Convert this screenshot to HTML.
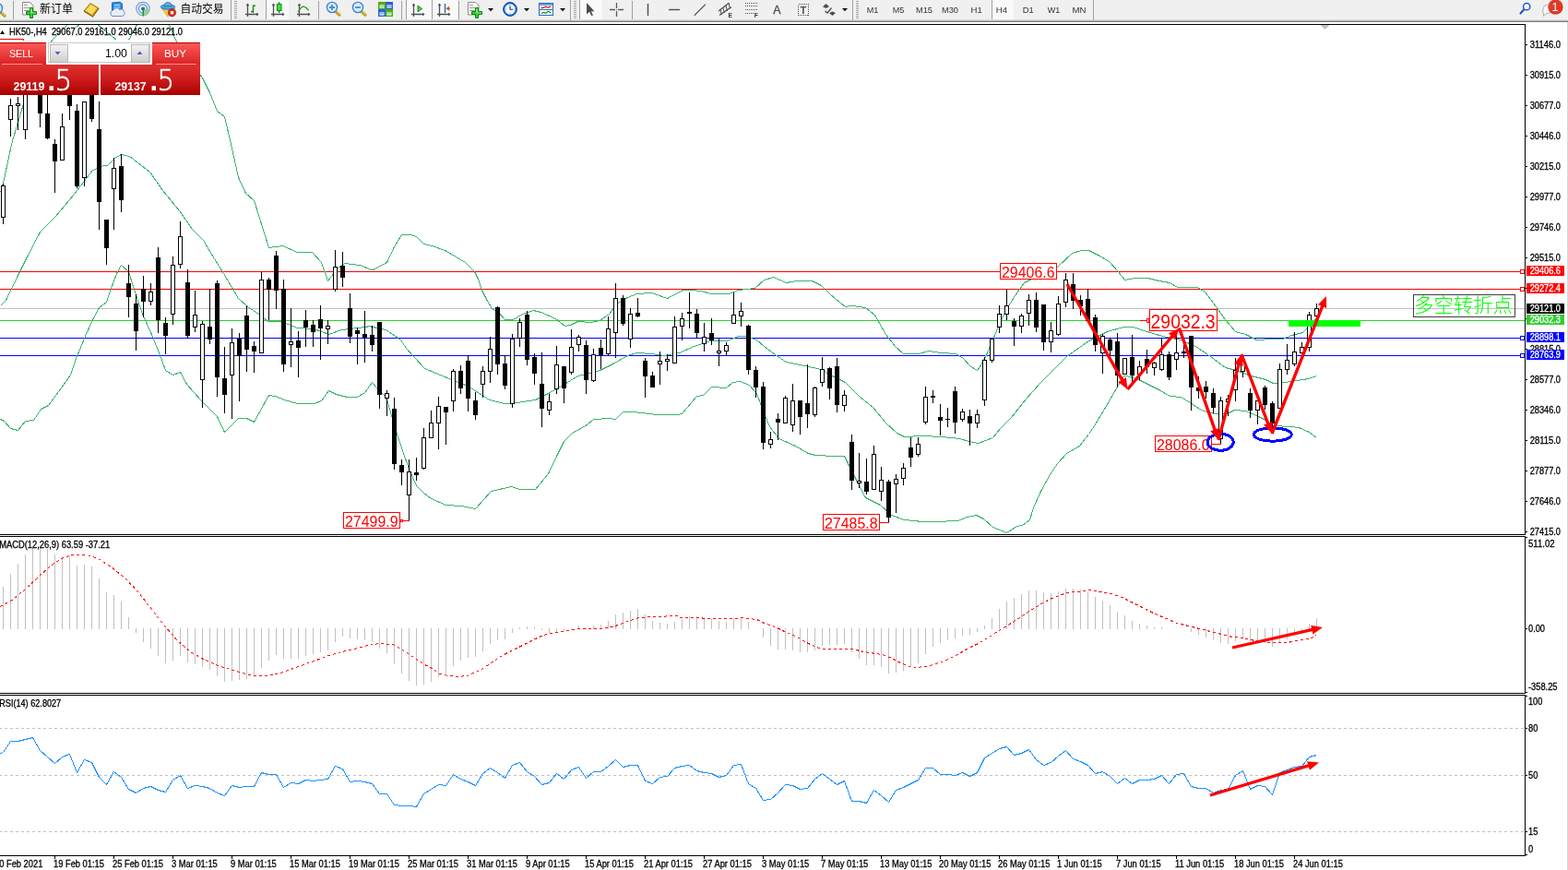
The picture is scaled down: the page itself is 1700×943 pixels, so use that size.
<!DOCTYPE html><html lang="zh"><head><meta charset="utf-8"><title>HK50-,H4</title>
<style>html,body{margin:0;padding:0;background:#fff}body{width:1700px;height:943px;overflow:hidden;position:relative;font-family:'Liberation Sans', 'Noto Sans CJK SC', sans-serif}svg{position:absolute;left:0;top:0;display:block}text{font-family:'Liberation Sans', 'Noto Sans CJK SC', sans-serif;white-space:pre}</style></head><body>
<svg width="1700" height="943" viewBox="0 0 1700 943">
<rect x="0" y="0" width="1700" height="943" fill="#fff"/>
<g shape-rendering="crispEdges">
<rect x="0" y="294" width="1653" height="1" fill="#ff0000"/>
<rect x="0" y="313" width="1653" height="1" fill="#ff0000"/>
<rect x="0" y="334" width="1653" height="1" fill="#c0c0c0"/>
<rect x="0" y="347" width="1653" height="1" fill="#32cd32"/>
<rect x="0" y="366" width="1653" height="1" fill="#0000ff"/>
<rect x="0" y="385" width="1653" height="1" fill="#0000ff"/>
<line x1="0" y1="789.5" x2="1653" y2="789.5" stroke="#c0c0c0" stroke-width="1" stroke-dasharray="3 3" stroke-dashoffset="1"/>
<line x1="0" y1="840.5" x2="1653" y2="840.5" stroke="#c0c0c0" stroke-width="1" stroke-dasharray="3 3" stroke-dashoffset="1"/>
<line x1="0" y1="901.5" x2="1653" y2="901.5" stroke="#c0c0c0" stroke-width="1" stroke-dasharray="3 3" stroke-dashoffset="1"/>
<path d="M3 636h1V682h-1zM11 622h1V682h-1zM19 611h1V682h-1zM27 601h1V682h-1zM35 594h1V682h-1zM43 593h1V682h-1zM51 595h1V682h-1zM59 601h1V682h-1zM67 603h1V682h-1zM75 603h1V682h-1zM83 613h1V682h-1zM91 612h1V682h-1zM99 614h1V682h-1zM107 627h1V682h-1zM115 642h1V682h-1zM123 645h1V682h-1zM131 652h1V682h-1zM139 669h1V682h-1zM147 681h1V686h-1zM155 681h1V696h-1zM163 681h1V703h-1zM171 681h1V711h-1zM179 681h1V719h-1zM187 681h1V716h-1zM195 681h1V711h-1zM203 681h1V718h-1zM211 681h1V720h-1zM219 681h1V723h-1zM227 681h1V726h-1zM235 681h1V733h-1zM243 681h1V739h-1zM251 681h1V738h-1zM259 681h1V737h-1zM267 681h1V736h-1zM275 681h1V733h-1zM283 681h1V724h-1zM291 681h1V716h-1zM299 681h1V710h-1zM307 681h1V714h-1zM315 681h1V714h-1zM323 681h1V714h-1zM331 681h1V711h-1zM339 681h1V709h-1zM347 681h1V707h-1zM355 681h1V705h-1zM363 681h1V696h-1zM371 681h1V690h-1zM379 681h1V692h-1zM387 681h1V693h-1zM395 681h1V694h-1zM403 681h1V696h-1zM411 681h1V703h-1zM419 681h1V708h-1zM427 681h1V720h-1zM435 681h1V730h-1zM443 681h1V738h-1zM451 681h1V743h-1zM459 681h1V742h-1zM467 681h1V739h-1zM475 681h1V734h-1zM483 681h1V730h-1zM491 681h1V722h-1zM499 681h1V716h-1zM507 681h1V713h-1zM515 681h1V712h-1zM523 681h1V706h-1zM531 681h1V698h-1zM539 681h1V694h-1zM547 681h1V693h-1zM555 681h1V686h-1zM563 680h1V682h-1zM571 679h1V682h-1zM579 680h1V682h-1zM587 681h1V683h-1zM595 681h1V686h-1zM603 681h1V685h-1zM611 681h1V684h-1zM619 681h1V683h-1zM627 678h1V682h-1zM635 680h1V682h-1zM643 678h1V682h-1zM651 677h1V682h-1zM659 673h1V682h-1zM667 666h1V682h-1zM675 664h1V682h-1zM683 662h1V682h-1zM691 660h1V682h-1zM699 666h1V682h-1zM707 673h1V682h-1zM715 675h1V682h-1zM723 676h1V682h-1zM731 674h1V682h-1zM739 671h1V682h-1zM747 668h1V682h-1zM755 668h1V682h-1zM763 669h1V682h-1zM771 670h1V682h-1zM779 673h1V682h-1zM787 674h1V682h-1zM795 670h1V682h-1zM803 669h1V682h-1zM811 674h1V682h-1zM827 681h1V691h-1zM835 681h1V700h-1zM843 681h1V704h-1zM851 681h1V704h-1zM859 681h1V705h-1zM867 681h1V707h-1zM875 681h1V707h-1zM883 681h1V705h-1zM891 681h1V700h-1zM899 681h1V699h-1zM907 681h1V699h-1zM915 681h1V698h-1zM923 681h1V707h-1zM931 681h1V714h-1zM939 681h1V721h-1zM947 681h1V721h-1zM955 681h1V723h-1zM963 681h1V730h-1zM971 681h1V729h-1zM979 681h1V727h-1zM987 681h1V723h-1zM995 681h1V719h-1zM1003 681h1V709h-1zM1011 681h1V701h-1zM1019 681h1V697h-1zM1027 681h1V694h-1zM1035 681h1V692h-1zM1043 681h1V689h-1zM1051 681h1V688h-1zM1059 681h1V685h-1zM1067 678h1V682h-1zM1075 670h1V682h-1zM1083 660h1V682h-1zM1091 652h1V682h-1zM1099 648h1V682h-1zM1107 644h1V682h-1zM1115 640h1V682h-1zM1123 640h1V682h-1zM1131 642h1V682h-1zM1139 643h1V682h-1zM1147 641h1V682h-1zM1155 638h1V682h-1zM1163 638h1V682h-1zM1171 639h1V682h-1zM1179 642h1V682h-1zM1187 647h1V682h-1zM1195 651h1V682h-1zM1203 656h1V682h-1zM1211 663h1V682h-1zM1219 667h1V682h-1zM1227 673h1V682h-1zM1235 676h1V682h-1zM1243 678h1V682h-1zM1251 680h1V682h-1zM1259 680h1V682h-1zM1291 681h1V685h-1zM1299 681h1V688h-1zM1307 681h1V691h-1zM1315 681h1V694h-1zM1323 681h1V697h-1zM1331 681h1V698h-1zM1339 681h1V695h-1zM1347 681h1V692h-1zM1355 681h1V695h-1zM1363 681h1V697h-1zM1371 681h1V697h-1zM1379 681h1V701h-1zM1387 681h1V697h-1zM1395 681h1V693h-1zM1403 681h1V688h-1zM1411 681h1V684h-1zM1419 676h1V682h-1zM1427 670h1V682h-1z" fill="#c0c0c0"/>
<polyline points="0.5,208.5 4.5,194.5 12.5,156.5 25.5,112.5 40.5,74.5 56.5,43.5 72.5,27.5" fill="none" stroke="#3cb371" stroke-width="1"/>
<polyline points="82.5,29.5 86.5,26.5" fill="none" stroke="#3cb371" stroke-width="1"/>
<polyline points="105.5,26.5 126.5,43.5" fill="none" stroke="#3cb371" stroke-width="1"/>
<polyline points="139.5,43.5 148.5,26.5" fill="none" stroke="#3cb371" stroke-width="1"/>
<polyline points="183.5,26.5 190.5,43.5 205.5,66.5 219.5,84.5 227.5,100.5 235.5,120.5 243.5,126.5 250.5,156.5 258.5,192.5 266.5,209.5 275.5,217.5 291.5,268.5 306.5,266.5 322.5,273.5 338.5,273.5 348.5,284.5 355.5,304.5 366.5,290.5 373.5,285.5 390.5,287.5 402.5,292.5 404.5,292.5 419.5,284.5 427.5,267.5 435.5,254.5 445.5,254.5 451.5,256.5 459.5,264.5 468.5,266.5 482.5,271.5 494.5,278.5 504.5,284.5 514.5,294.5 518.5,302.5 522.5,314.5 528.5,326.5 533.5,334.5 540.5,338.5 547.5,346.5 556.5,346.5 566.5,340.5 578.5,336.5 586.5,338.5 602.5,345.5 612.5,353.5 618.5,352.5 626.5,348.5 640.5,349.5 650.5,347.5 660.5,340.5 668.5,329.5 680.5,322.5 690.5,318.5 706.5,317.5 723.5,323.5 740.5,314.5 749.5,314.5 760.5,315.5 770.5,318.5 790.5,318.5 800.5,314.5 818.5,312.5 828.5,303.5 838.5,300.5 852.5,306.5 864.5,304.5 880.5,304.5 890.5,309.5 900.5,319.5 916.5,332.5 924.5,331.5 938.5,333.5 948.5,341.5 960.5,362.5 970.5,375.5 979.5,383.5 996.5,383.5 1006.5,380.5 1020.5,382.5 1036.5,383.5 1044.5,388.5 1051.5,396.5 1059.5,401.5 1064.5,394.5 1070.5,382.5 1080.5,358.5 1090.5,336.5 1100.5,320.5 1110.5,306.5 1126.5,298.5 1146.5,289.5 1162.5,274.5 1172.5,271.5 1180.5,271.5 1190.5,276.5 1202.5,283.5 1212.5,294.5 1219.5,303.5 1230.5,301.5 1244.5,301.5 1256.5,304.5 1268.5,306.5 1276.5,311.5 1298.5,311.5 1306.5,316.5 1318.5,332.5 1328.5,346.5 1339.5,359.5 1350.5,362.5 1362.5,368.5 1380.5,367.5 1390.5,367.5 1400.5,363.5 1412.5,360.5 1418.5,354.5 1427.5,344.5" fill="none" stroke="#3cb371" stroke-width="1"/>
<polyline points="0.5,331.5 6.5,325.5 20.5,296.5 28.5,280.5 43.5,251.5 60.5,234.5 80.5,210.5 100.5,184.5 112.5,179.5 116.5,179.5 124.5,171.5 131.5,167.5 140.5,169.5 162.5,186.5 176.5,206.5 194.5,228.5 208.5,248.5 220.5,260.5 232.5,280.5 242.5,296.5 258.5,323.5 268.5,332.5 280.5,340.5 290.5,348.5 304.5,348.5 312.5,351.5 322.5,355.5 340.5,356.5 356.5,362.5 370.5,357.5 396.5,354.5 400.5,353.5 408.5,355.5 418.5,357.5 434.5,368.5 440.5,377.5 448.5,386.5 460.5,399.5 489.5,411.5 500.5,415.5 510.5,420.5 530.5,433.5 547.5,437.5 560.5,436.5 580.5,433.5 594.5,426.5 610.5,417.5 626.5,407.5 640.5,404.5 650.5,401.5 664.5,394.5 680.5,385.5 690.5,382.5 706.5,383.5 720.5,385.5 736.5,382.5 752.5,375.5 764.5,371.5 770.5,369.5 788.5,369.5 800.5,364.5 808.5,364.5 820.5,368.5 828.5,375.5 840.5,384.5 852.5,392.5 872.5,396.5 890.5,400.5 900.5,406.5 916.5,414.5 932.5,430.5 946.5,441.5 960.5,458.5 972.5,469.5 980.5,473.5 1000.5,472.5 1020.5,473.5 1040.5,475.5 1050.5,478.5 1060.5,480.5 1076.5,474.5 1084.5,464.5 1096.5,452.5 1112.5,432.5 1128.5,414.5 1156.5,386.5 1180.5,369.5 1200.5,359.5 1218.5,354.5 1228.5,354.5 1240.5,358.5 1260.5,364.5 1280.5,368.5 1296.5,375.5 1312.5,386.5 1328.5,398.5 1340.5,401.5 1356.5,407.5 1372.5,411.5 1380.5,415.5 1392.5,414.5 1406.5,412.5 1418.5,410.5 1427.5,407.5" fill="none" stroke="#3cb371" stroke-width="1"/>
<polyline points="0.5,454.5 4.5,456.5 11.5,464.5 19.5,466.5 27.5,456.5 36.5,455.5 44.5,443.5 52.5,439.5 66.5,420.5 76.5,406.5 82.5,388.5 92.5,364.5 100.5,346.5 107.5,333.5 115.5,327.5 120.5,312.5 126.5,296.5 131.5,287.5 139.5,294.5 144.5,310.5 154.5,340.5 164.5,362.5 172.5,382.5 179.5,401.5 187.5,406.5 195.5,403.5 202.5,416.5 218.5,434.5 235.5,451.5 243.5,468.5 258.5,453.5 267.5,453.5 275.5,457.5 291.5,428.5 298.5,429.5 308.5,433.5 322.5,437.5 340.5,437.5 348.5,434.5 356.5,423.5 364.5,427.5 376.5,430.5 387.5,430.5 395.5,425.5 403.5,414.5 408.5,420.5 417.5,429.5 420.5,436.5 424.5,450.5 430.5,470.5 436.5,488.5 443.5,508.5 451.5,526.5 459.5,534.5 467.5,540.5 483.5,547.5 500.5,548.5 515.5,551.5 532.5,532.5 554.5,527.5 563.5,530.5 580.5,530.5 594.5,513.5 604.5,492.5 611.5,478.5 620.5,469.5 636.5,460.5 643.5,454.5 660.5,453.5 667.5,454.5 675.5,446.5 686.5,446.5 712.5,449.5 734.5,449.5 739.5,448.5 755.5,429.5 762.5,428.5 771.5,419.5 787.5,420.5 794.5,414.5 802.5,413.5 812.5,417.5 820.5,426.5 828.5,448.5 834.5,462.5 844.5,475.5 860.5,482.5 876.5,491.5 884.5,493.5 904.5,494.5 915.5,494.5 920.5,504.5 928.5,520.5 938.5,539.5 954.5,547.5 966.5,558.5 980.5,563.5 1000.5,565.5 1014.5,565.5 1038.5,564.5 1048.5,560.5 1058.5,558.5 1066.5,562.5 1076.5,571.5 1091.5,577.5 1102.5,570.5 1108.5,569.5 1116.5,563.5 1120.5,550.5 1128.5,532.5 1138.5,514.5 1146.5,502.5 1156.5,491.5 1170.5,483.5 1180.5,470.5 1188.5,458.5 1200.5,438.5 1212.5,417.5 1218.5,407.5 1226.5,408.5 1236.5,412.5 1256.5,422.5 1268.5,429.5 1280.5,430.5 1290.5,436.5 1300.5,443.5 1310.5,447.5 1320.5,448.5 1330.5,448.5 1338.5,444.5 1350.5,445.5 1362.5,450.5 1372.5,455.5 1380.5,461.5 1399.5,462.5 1408.5,463.5 1419.5,468.5 1427.5,474.5" fill="none" stroke="#3cb371" stroke-width="1"/>
<path d="M3 199h1V243h-1zM11 107h1V148h-1zM19 105h1V141h-1zM27 90h1V151h-1zM43 80h1V138h-1zM51 95h1V151h-1zM59 151h1V209h-1zM67 123h1V174h-1zM75 90h1V130h-1zM83 113h1V204h-1zM91 110h1V202h-1zM99 90h1V132h-1zM107 110h1V249h-1zM115 238h1V287h-1zM123 171h1V249h-1zM131 167h1V230h-1zM139 287h1V344h-1zM147 319h1V380h-1zM155 299h1V344h-1zM163 307h1V331h-1zM171 268h1V361h-1zM179 344h1V384h-1zM187 278h1V352h-1zM195 240h1V291h-1zM203 292h1V366h-1zM211 315h1V360h-1zM219 348h1V442h-1zM227 313h1V373h-1zM235 304h1V430h-1zM243 376h1V448h-1zM251 356h1V454h-1zM259 361h1V435h-1zM267 331h1V403h-1zM275 370h1V404h-1zM283 295h1V383h-1zM291 301h1V347h-1zM299 272h1V335h-1zM307 303h1V403h-1zM315 334h1V398h-1zM323 359h1V409h-1zM331 336h1V376h-1zM339 347h1V376h-1zM347 331h1V390h-1zM355 347h1V373h-1zM363 271h1V316h-1zM371 273h1V311h-1zM379 318h1V372h-1zM387 355h1V395h-1zM395 337h1V393h-1zM403 353h1V381h-1zM411 349h1V443h-1zM419 423h1V451h-1zM427 431h1V509h-1zM435 498h1V526h-1zM443 498h1V564h-1zM451 496h1V521h-1zM459 464h1V509h-1zM467 445h1V475h-1zM475 430h1V487h-1zM483 441h1V482h-1zM491 400h1V446h-1zM499 396h1V427h-1zM507 385h1V446h-1zM515 425h1V455h-1zM523 397h1V431h-1zM531 365h1V415h-1zM539 332h1V406h-1zM547 385h1V422h-1zM555 362h1V442h-1zM563 345h1V376h-1zM571 337h1V396h-1zM579 383h1V417h-1zM587 382h1V463h-1zM595 427h1V450h-1zM603 375h1V427h-1zM611 397h1V437h-1zM619 357h1V406h-1zM627 363h1V381h-1zM635 369h1V427h-1zM643 378h1V414h-1zM651 368h1V400h-1zM659 343h1V386h-1zM667 307h1V388h-1zM675 320h1V353h-1zM683 334h1V377h-1zM691 323h1V344h-1zM699 388h1V431h-1zM707 403h1V420h-1zM715 381h1V417h-1zM723 384h1V402h-1zM731 343h1V394h-1zM739 339h1V369h-1zM747 317h1V356h-1zM755 335h1V367h-1zM763 350h1V381h-1zM771 345h1V374h-1zM779 367h1V397h-1zM787 371h1V385h-1zM795 317h1V351h-1zM803 328h1V354h-1zM811 352h1V406h-1zM819 397h1V431h-1zM827 414h1V487h-1zM835 468h1V486h-1zM843 448h1V477h-1zM851 429h1V459h-1zM859 416h1V468h-1zM867 434h1V471h-1zM875 395h1V464h-1zM883 419h1V452h-1zM891 387h1V419h-1zM899 398h1V433h-1zM907 388h1V447h-1zM915 423h1V446h-1zM923 471h1V531h-1zM931 491h1V529h-1zM939 497h1V536h-1zM947 483h1V531h-1zM955 506h1V543h-1zM963 520h1V566h-1zM971 514h1V556h-1zM979 502h1V526h-1zM987 474h1V506h-1zM995 474h1V495h-1zM1003 419h1V460h-1zM1011 423h1V437h-1zM1019 438h1V472h-1zM1027 442h1V463h-1zM1035 419h1V470h-1zM1043 443h1V457h-1zM1051 444h1V483h-1zM1059 444h1V464h-1zM1067 387h1V440h-1zM1075 366h1V393h-1zM1083 331h1V361h-1zM1091 314h1V347h-1zM1099 345h1V375h-1zM1107 340h1V361h-1zM1115 319h1V353h-1zM1123 317h1V360h-1zM1131 330h1V380h-1zM1139 349h1V382h-1zM1147 321h1V364h-1zM1155 296h1V333h-1zM1163 296h1V335h-1zM1171 320h1V342h-1zM1179 313h1V349h-1zM1187 341h1V381h-1zM1195 362h1V405h-1zM1203 366h1V392h-1zM1211 361h1V420h-1zM1219 388h1V406h-1zM1227 363h1V415h-1zM1235 391h1V412h-1zM1243 379h1V405h-1zM1251 392h1V407h-1zM1259 367h1V402h-1zM1267 381h1V412h-1zM1275 363h1V401h-1zM1283 372h1V388h-1zM1291 364h1V445h-1zM1299 408h1V432h-1zM1307 413h1V432h-1zM1315 421h1V448h-1zM1323 430h1V481h-1zM1331 428h1V451h-1zM1339 388h1V435h-1zM1347 387h1V409h-1zM1355 421h1V453h-1zM1363 434h1V460h-1zM1371 418h1V444h-1zM1379 435h1V464h-1zM1387 394h1V443h-1zM1395 373h1V406h-1zM1403 360h1V397h-1zM1411 371h1V383h-1zM1419 338h1V381h-1zM1427 329h1V345h-1z" fill="#000"/>
<path d="M1 201h5V236h-5zM9 114h5V130h-5zM17 112h5V115h-5zM25 90h5V141h-5zM41 85h5V123h-5zM49 123h5V150h-5zM57 156h5V175h-5zM65 137h5V174h-5zM73 90h5V115h-5zM81 120h5V202h-5zM89 110h5V193h-5zM97 90h5V129h-5zM105 140h5V219h-5zM113 238h5V269h-5zM121 182h5V205h-5zM129 180h5V217h-5zM137 307h5V322h-5zM145 329h5V359h-5zM153 313h5V327h-5zM161 316h5V327h-5zM169 279h5V347h-5zM177 350h5V364h-5zM185 287h5V341h-5zM193 256h5V287h-5zM201 306h5V364h-5zM209 341h5V355h-5zM217 351h5V412h-5zM225 354h5V368h-5zM233 307h5V409h-5zM241 410h5V428h-5zM249 371h5V407h-5zM257 367h5V386h-5zM265 342h5V379h-5zM273 375h5V381h-5zM281 303h5V383h-5zM289 303h5V314h-5zM297 277h5V315h-5zM305 313h5V395h-5zM313 370h5V374h-5zM321 369h5V377h-5zM329 347h5V355h-5zM337 352h5V360h-5zM345 346h5V356h-5zM353 353h5V357h-5zM361 289h5V314h-5zM369 288h5V301h-5zM377 334h5V365h-5zM385 358h5V362h-5zM393 362h5V366h-5zM401 363h5V374h-5zM409 349h5V428h-5zM417 426h5V432h-5zM425 443h5V503h-5zM433 504h5V512h-5zM441 511h5V537h-5zM449 512h5V515h-5zM457 474h5V508h-5zM465 458h5V475h-5zM473 440h5V459h-5zM481 441h5V447h-5zM489 402h5V435h-5zM497 402h5V421h-5zM505 391h5V432h-5zM513 434h5V450h-5zM521 402h5V417h-5zM529 378h5V403h-5zM537 333h5V395h-5zM545 394h5V418h-5zM553 367h5V438h-5zM561 349h5V367h-5zM569 341h5V390h-5zM577 387h5V405h-5zM585 416h5V443h-5zM593 435h5V445h-5zM601 395h5V422h-5zM609 397h5V421h-5zM617 376h5V404h-5zM625 365h5V374h-5zM633 374h5V412h-5zM641 384h5V413h-5zM649 377h5V385h-5zM657 356h5V384h-5zM665 323h5V361h-5zM673 323h5V351h-5zM681 340h5V368h-5zM689 339h5V343h-5zM697 391h5V408h-5zM705 407h5V420h-5zM713 391h5V395h-5zM721 389h5V392h-5zM729 354h5V394h-5zM737 345h5V354h-5zM745 338h5V340h-5zM753 340h5V361h-5zM761 365h5V373h-5zM769 361h5V369h-5zM777 380h5V383h-5zM785 374h5V381h-5zM793 341h5V351h-5zM801 337h5V343h-5zM809 353h5V401h-5zM817 401h5V420h-5zM825 419h5V480h-5zM833 476h5V482h-5zM841 454h5V458h-5zM849 431h5V459h-5zM857 434h5V461h-5zM865 434h5V452h-5zM873 437h5V449h-5zM881 420h5V450h-5zM889 400h5V415h-5zM897 399h5V421h-5zM905 397h5V439h-5zM913 428h5V440h-5zM921 479h5V521h-5zM929 521h5V524h-5zM937 522h5V533h-5zM945 492h5V531h-5zM953 520h5V533h-5zM961 522h5V561h-5zM969 519h5V525h-5zM977 507h5V519h-5zM985 485h5V496h-5zM993 481h5V493h-5zM1001 430h5V458h-5zM1009 429h5V431h-5zM1017 452h5V456h-5zM1025 454h5V455h-5zM1033 424h5V458h-5zM1041 446h5V455h-5zM1049 451h5V459h-5zM1057 449h5V459h-5zM1065 390h5V434h-5zM1073 367h5V391h-5zM1081 340h5V355h-5zM1089 331h5V341h-5zM1097 348h5V354h-5zM1105 342h5V354h-5zM1113 325h5V340h-5zM1121 325h5V355h-5zM1129 330h5V371h-5zM1137 358h5V371h-5zM1145 329h5V363h-5zM1153 303h5V328h-5zM1161 308h5V326h-5zM1169 325h5V332h-5zM1177 324h5V348h-5zM1185 344h5V374h-5zM1193 364h5V383h-5zM1201 368h5V380h-5zM1209 370h5V407h-5zM1217 388h5V406h-5zM1225 387h5V407h-5zM1233 397h5V406h-5zM1241 389h5V398h-5zM1249 393h5V399h-5zM1257 384h5V401h-5zM1265 384h5V409h-5zM1273 382h5V390h-5zM1281 381h5V383h-5zM1289 364h5V420h-5zM1297 420h5V424h-5zM1305 419h5V425h-5zM1313 426h5V442h-5zM1321 434h5V476h-5zM1329 432h5V436h-5zM1337 401h5V423h-5zM1345 391h5V403h-5zM1353 426h5V445h-5zM1361 434h5V445h-5zM1369 420h5V439h-5zM1377 437h5V459h-5zM1385 400h5V443h-5zM1393 390h5V401h-5zM1401 381h5V395h-5zM1409 376h5V383h-5zM1417 341h5V377h-5zM1425 334h5V343h-5z" fill="#000"/>
<path d="M2 202h3V235h-3zM10 115h3V129h-3zM18 113h3V114h-3zM26 91h3V140h-3zM66 138h3V173h-3zM90 111h3V192h-3zM122 183h3V204h-3zM162 317h3V326h-3zM186 288h3V340h-3zM194 257h3V286h-3zM210 342h3V354h-3zM218 352h3V411h-3zM250 372h3V406h-3zM282 304h3V382h-3zM314 371h3V373h-3zM354 354h3V356h-3zM362 290h3V313h-3zM418 427h3V431h-3zM442 512h3V536h-3zM458 475h3V507h-3zM466 459h3V474h-3zM474 441h3V458h-3zM490 403h3V434h-3zM522 403h3V416h-3zM530 379h3V402h-3zM554 368h3V437h-3zM562 350h3V366h-3zM594 436h3V444h-3zM602 396h3V421h-3zM618 377h3V403h-3zM626 366h3V373h-3zM642 385h3V412h-3zM658 357h3V383h-3zM666 324h3V360h-3zM682 341h3V367h-3zM714 392h3V394h-3zM722 390h3V391h-3zM730 355h3V393h-3zM738 346h3V353h-3zM762 366h3V372h-3zM778 381h3V382h-3zM786 375h3V380h-3zM794 342h3V350h-3zM802 338h3V342h-3zM834 477h3V481h-3zM850 432h3V458h-3zM858 435h3V460h-3zM882 421h3V449h-3zM890 401h3V414h-3zM914 429h3V439h-3zM930 522h3V523h-3zM946 493h3V530h-3zM954 521h3V532h-3zM970 520h3V524h-3zM978 508h3V518h-3zM994 482h3V492h-3zM1002 431h3V457h-3zM1042 447h3V454h-3zM1058 450h3V458h-3zM1066 391h3V433h-3zM1074 368h3V390h-3zM1082 341h3V354h-3zM1090 332h3V340h-3zM1106 343h3V353h-3zM1114 326h3V339h-3zM1138 359h3V370h-3zM1146 330h3V362h-3zM1154 304h3V327h-3zM1194 365h3V382h-3zM1218 389h3V405h-3zM1234 398h3V405h-3zM1250 394h3V398h-3zM1258 385h3V400h-3zM1274 383h3V389h-3zM1322 435h3V475h-3zM1330 433h3V435h-3zM1338 402h3V422h-3zM1346 392h3V402h-3zM1362 435h3V444h-3zM1386 401h3V442h-3zM1394 391h3V400h-3zM1402 382h3V394h-3zM1410 377h3V382h-3zM1418 342h3V376h-3zM1426 335h3V342h-3z" fill="#fff"/>
<polyline points="0.5,657.5 14.5,649.5 26.5,639.5 40.5,626.5 54.5,613.5 66.5,605.5 78.5,601.5 94.5,601.5 106.5,605.5 120.5,614.5 136.5,627.5 150.5,642.5 164.5,660.5 178.5,678.5 192.5,694.5 206.5,706.5 220.5,714.5 236.5,721.5 252.5,726.5 266.5,730.5 276.5,732.5 290.5,732.5 304.5,729.5 320.5,723.5 340.5,716.5 356.5,710.5 370.5,706.5 380.5,704.5 394.5,700.5 410.5,697.5 426.5,698.5 436.5,704.5 448.5,712.5 460.5,720.5 468.5,724.5 476.5,730.5 486.5,732.5 496.5,733.5 506.5,732.5 520.5,726.5 532.5,718.5 544.5,710.5 556.5,704.5 568.5,698.5 580.5,692.5 588.5,688.5 602.5,685.5 616.5,683.5 628.5,681.5 652.5,681.5 664.5,679.5 680.5,673.5 692.5,669.5 710.5,668.5 734.5,667.5 738.5,669.5 758.5,669.5 764.5,670.5 796.5,670.5 804.5,669.5 810.5,670.5 820.5,671.5 828.5,675.5 840.5,679.5 852.5,685.5 864.5,690.5 872.5,695.5 880.5,699.5 890.5,703.5 924.5,703.5 936.5,706.5 956.5,709.5 964.5,712.5 976.5,718.5 986.5,722.5 994.5,723.5 1008.5,721.5 1023.5,716.5 1036.5,710.5 1048.5,703.5 1060.5,697.5 1072.5,690.5 1084.5,682.5 1096.5,675.5 1108.5,667.5 1120.5,659.5 1132.5,652.5 1140.5,648.5 1156.5,642.5 1168.5,641.5 1180.5,639.5 1192.5,641.5 1204.5,643.5 1216.5,647.5 1228.5,653.5 1240.5,659.5 1252.5,665.5 1264.5,670.5 1276.5,675.5 1288.5,678.5 1300.5,681.5 1312.5,684.5 1324.5,687.5 1336.5,690.5 1348.5,691.5 1360.5,694.5 1376.5,696.5 1396.5,696.5 1404.5,694.5 1420.5,692.5 1427.5,688.5" fill="none" stroke="#ff0000" stroke-width="1" stroke-dasharray="3 3"/>
<polyline points="0.5,816.5 3.5,815.5 11.5,803.5 19.5,803.5 27.5,801.5 35.5,799.5 43.5,813.5 51.5,820.5 59.5,827.5 67.5,820.5 75.5,817.5 83.5,837.5 91.5,823.5 99.5,826.5 107.5,842.5 115.5,850.5 123.5,836.5 131.5,842.5 139.5,855.5 147.5,859.5 155.5,854.5 163.5,852.5 171.5,856.5 179.5,858.5 187.5,845.5 195.5,840.5 203.5,854.5 211.5,851.5 219.5,852.5 227.5,854.5 235.5,859.5 243.5,862.5 251.5,851.5 259.5,853.5 267.5,852.5 275.5,852.5 283.5,837.5 291.5,839.5 299.5,839.5 307.5,853.5 315.5,848.5 323.5,849.5 331.5,845.5 339.5,846.5 347.5,845.5 355.5,844.5 363.5,830.5 371.5,833.5 379.5,847.5 387.5,846.5 395.5,847.5 403.5,849.5 411.5,860.5 419.5,860.5 427.5,872.5 435.5,873.5 443.5,873.5 451.5,874.5 459.5,860.5 467.5,855.5 475.5,850.5 483.5,851.5 491.5,839.5 499.5,844.5 507.5,847.5 515.5,851.5 523.5,838.5 531.5,832.5 539.5,837.5 547.5,843.5 555.5,829.5 563.5,826.5 571.5,836.5 579.5,841.5 587.5,850.5 595.5,848.5 603.5,838.5 611.5,844.5 619.5,834.5 627.5,831.5 635.5,843.5 643.5,836.5 651.5,836.5 659.5,830.5 667.5,823.5 675.5,831.5 683.5,829.5 691.5,829.5 699.5,846.5 707.5,849.5 715.5,842.5 723.5,841.5 731.5,832.5 739.5,830.5 747.5,829.5 755.5,835.5 763.5,837.5 771.5,838.5 779.5,842.5 787.5,840.5 795.5,829.5 803.5,828.5 811.5,849.5 819.5,854.5 827.5,867.5 835.5,866.5 843.5,859.5 851.5,850.5 859.5,851.5 867.5,855.5 875.5,854.5 883.5,844.5 891.5,838.5 899.5,844.5 907.5,850.5 915.5,846.5 923.5,868.5 931.5,868.5 939.5,870.5 947.5,856.5 955.5,862.5 963.5,869.5 971.5,856.5 979.5,853.5 987.5,849.5 995.5,845.5 1003.5,832.5 1011.5,832.5 1019.5,839.5 1027.5,839.5 1035.5,840.5 1043.5,837.5 1051.5,841.5 1059.5,837.5 1067.5,821.5 1075.5,816.5 1083.5,811.5 1091.5,809.5 1099.5,818.5 1107.5,816.5 1115.5,812.5 1123.5,823.5 1131.5,829.5 1139.5,826.5 1147.5,819.5 1155.5,813.5 1163.5,822.5 1171.5,825.5 1179.5,829.5 1187.5,838.5 1195.5,836.5 1203.5,841.5 1211.5,849.5 1219.5,843.5 1227.5,849.5 1235.5,845.5 1243.5,845.5 1251.5,844.5 1259.5,840.5 1267.5,849.5 1275.5,839.5 1283.5,838.5 1291.5,852.5 1299.5,854.5 1307.5,854.5 1315.5,859.5 1323.5,856.5 1331.5,855.5 1339.5,840.5 1347.5,835.5 1355.5,855.5 1363.5,851.5 1371.5,852.5 1379.5,861.5 1387.5,837.5 1395.5,834.5 1403.5,831.5 1411.5,830.5 1419.5,820.5 1427.5,818.5" fill="none" stroke="#1e90ff" stroke-width="1"/>
<rect x="1397" y="347" width="78" height="7" fill="#00ff00"/>
<rect x="372.5" y="555.5" width="61" height="17" fill="#fff" stroke="#ff0000" stroke-width="1"/>
<path d="M434 563h3v3h-3zM437 564h7v1h-7z" fill="#ff0000"/><rect x="435" y="564" width="1" height="1" fill="#fff"/>
<rect x="892.5" y="557.5" width="61" height="17" fill="#fff" stroke="#ff0000" stroke-width="1"/>
<path d="M954 565.5h10v1h-10z" fill="#ff0000"/>
<rect x="1084.5" y="285.5" width="61" height="17" fill="#fff" stroke="#ff0000" stroke-width="1"/>
<rect x="1246.5" y="335.5" width="73" height="23" fill="#fff" stroke="#ff0000" stroke-width="1"/>
<path d="M1236 347h7v1h-7zM1243 345h3v5h-3z" fill="#ff0000"/><rect x="1244" y="346" width="1" height="3" fill="#fff"/>
<rect x="1252.5" y="472.5" width="61" height="17" fill="#fff" stroke="#ff0000" stroke-width="1"/>
<path d="M1314 481h10v1h-10z" fill="#ff0000"/>
</g>
<text x="374" y="570.7" font-size="16.7" fill="#ff0000" textLength="57.5" lengthAdjust="spacingAndGlyphs" >27499.9</text>
<text x="894" y="572.7" font-size="16.7" fill="#ff0000" textLength="57.5" lengthAdjust="spacingAndGlyphs" >27485.8</text>
<text x="1086" y="300.7" font-size="16.7" fill="#ff0000" textLength="57.5" lengthAdjust="spacingAndGlyphs" >29406.6</text>
<text x="1247.6" y="355.7" font-size="21.5" fill="#ff0000" textLength="70" lengthAdjust="spacingAndGlyphs" >29032.3</text>
<text x="1254" y="487.7" font-size="16.7" fill="#ff0000" textLength="57.5" lengthAdjust="spacingAndGlyphs" >28086.0</text>
<g shape-rendering="crispEdges">
<ellipse cx="1323.2" cy="479.3" rx="14" ry="9" fill="none" stroke="#0000ff" stroke-width="3"/>
<ellipse cx="1379.8" cy="471" rx="20.5" ry="7.2" fill="none" stroke="#0000ff" stroke-width="3"/>
</g><g>
<line x1="1157" y1="308" x2="1217.5" y2="413.3" stroke="#ff0000" stroke-width="3.4" stroke-linecap="butt"/><polygon points="1222.5,422.0 1212.2,414.1 1220.9,409.1" fill="#ff0000"/>
<line x1="1222.5" y1="422" x2="1272.1" y2="363.1" stroke="#ff0000" stroke-width="3.4" stroke-linecap="butt"/><polygon points="1278.5,355.5 1274.6,367.9 1266.9,361.5" fill="#ff0000"/>
<line x1="1278.5" y1="355.5" x2="1317.7" y2="467.6" stroke="#ff0000" stroke-width="3.4" stroke-linecap="butt"/><polygon points="1321.0,477.0 1312.3,467.3 1321.8,464.0" fill="#ff0000"/>
<line x1="1321" y1="477" x2="1343.4" y2="393.7" stroke="#ff0000" stroke-width="3.4" stroke-linecap="butt"/><polygon points="1346.0,384.0 1347.7,396.9 1338.1,394.3" fill="#ff0000"/>
<line x1="1346" y1="384" x2="1375.4" y2="460.7" stroke="#ff0000" stroke-width="3.4" stroke-linecap="butt"/><polygon points="1379.0,470.0 1370.0,460.6 1379.4,457.0" fill="#ff0000"/>
<line x1="1379" y1="470" x2="1434.3" y2="330.3" stroke="#ff0000" stroke-width="3.4" stroke-linecap="butt"/><polygon points="1438.0,321.0 1438.2,334.0 1428.9,330.3" fill="#ff0000"/>
<line x1="1336" y1="702" x2="1424.2" y2="682.2" stroke="#ff0000" stroke-width="3.3" stroke-linecap="butt"/><polygon points="1434.0,680.0 1423.4,687.5 1421.2,677.7" fill="#ff0000"/>
<line x1="1312" y1="862" x2="1420.4" y2="829.4" stroke="#ff0000" stroke-width="3.3" stroke-linecap="butt"/><polygon points="1430.0,826.5 1419.9,834.7 1417.1,825.2" fill="#ff0000"/>
</g><g shape-rendering="crispEdges">
<rect x="1532.5" y="319.5" width="110" height="24" fill="none" stroke="#404040" stroke-width="1"/>
<rect x="1648.5" y="292.5" width="4" height="4" fill="#fff" stroke="#ff0000" stroke-width="1"/>
<rect x="1648.5" y="311.5" width="4" height="4" fill="#fff" stroke="#ff0000" stroke-width="1"/>
<rect x="1648.5" y="364.5" width="4" height="4" fill="#fff" stroke="#0000ff" stroke-width="1"/>
<rect x="1648.5" y="383.5" width="4" height="4" fill="#fff" stroke="#0000ff" stroke-width="1"/>
<polygon points="1431,27 1442,27 1436.5,32" fill="#c0c0c0"/>
<rect x="1699" y="24" width="1" height="919" fill="#dadada"/>
<rect x="0" y="26" width="1654" height="1" fill="#000"/>
<rect x="1653" y="26" width="1" height="902" fill="#000"/>
<rect x="0" y="579" width="1654" height="1" fill="#000"/>
<rect x="0" y="581" width="1654" height="1" fill="#000"/>
<rect x="0" y="751" width="1654" height="1" fill="#000"/>
<rect x="0" y="753" width="1654" height="1" fill="#000"/>
<rect x="0" y="927" width="1654" height="1" fill="#000"/>
<rect x="0" y="580" width="1654" height="1" fill="#fff"/>
<rect x="0" y="752" width="1654" height="1" fill="#fff"/>
<rect x="1654" y="48" width="2" height="1" fill="#000"/>
<rect x="1654" y="81" width="2" height="1" fill="#000"/>
<rect x="1654" y="114" width="2" height="1" fill="#000"/>
<rect x="1654" y="147" width="2" height="1" fill="#000"/>
<rect x="1654" y="180" width="2" height="1" fill="#000"/>
<rect x="1654" y="213" width="2" height="1" fill="#000"/>
<rect x="1654" y="246" width="2" height="1" fill="#000"/>
<rect x="1654" y="279" width="2" height="1" fill="#000"/>
<rect x="1654" y="312" width="2" height="1" fill="#000"/>
<rect x="1654" y="345" width="2" height="1" fill="#000"/>
<rect x="1654" y="378" width="2" height="1" fill="#000"/>
<rect x="1654" y="411" width="2" height="1" fill="#000"/>
<rect x="1654" y="444" width="2" height="1" fill="#000"/>
<rect x="1654" y="477" width="2" height="1" fill="#000"/>
<rect x="1654" y="510" width="2" height="1" fill="#000"/>
<rect x="1654" y="543" width="2" height="1" fill="#000"/>
<rect x="1654" y="576" width="2" height="1" fill="#000"/>
<rect x="1654" y="582" width="2" height="1" fill="#000"/>
<rect x="1654" y="681" width="2" height="1" fill="#000"/>
<rect x="1654" y="750" width="2" height="1" fill="#000"/>
<rect x="1654" y="754" width="2" height="1" fill="#000"/>
<rect x="1654" y="789" width="2" height="1" fill="#000"/>
<rect x="1654" y="840" width="2" height="1" fill="#000"/>
<rect x="1654" y="901" width="2" height="1" fill="#000"/>
<rect x="1654" y="926" width="2" height="1" fill="#000"/>
<rect x="59" y="928" width="1" height="3" fill="#000"/>
<rect x="123" y="928" width="1" height="3" fill="#000"/>
<rect x="187" y="928" width="1" height="3" fill="#000"/>
<rect x="251" y="928" width="1" height="3" fill="#000"/>
<rect x="315" y="928" width="1" height="3" fill="#000"/>
<rect x="379" y="928" width="1" height="3" fill="#000"/>
<rect x="443" y="928" width="1" height="3" fill="#000"/>
<rect x="507" y="928" width="1" height="3" fill="#000"/>
<rect x="571" y="928" width="1" height="3" fill="#000"/>
<rect x="635" y="928" width="1" height="3" fill="#000"/>
<rect x="699" y="928" width="1" height="3" fill="#000"/>
<rect x="763" y="928" width="1" height="3" fill="#000"/>
<rect x="827" y="928" width="1" height="3" fill="#000"/>
<rect x="891" y="928" width="1" height="3" fill="#000"/>
<rect x="955" y="928" width="1" height="3" fill="#000"/>
<rect x="1019" y="928" width="1" height="3" fill="#000"/>
<rect x="1083" y="928" width="1" height="3" fill="#000"/>
<rect x="1147" y="928" width="1" height="3" fill="#000"/>
<rect x="1211" y="928" width="1" height="3" fill="#000"/>
<rect x="1275" y="928" width="1" height="3" fill="#000"/>
<rect x="1339" y="928" width="1" height="3" fill="#000"/>
<rect x="1403" y="928" width="1" height="3" fill="#000"/>
</g>
<text x="1658.7" y="52.2" font-size="10.2" fill="#000" textLength="33.3" lengthAdjust="spacingAndGlyphs"  stroke="#000" stroke-width="0.3">31146.0</text>
<text x="1658.7" y="85.2" font-size="10.2" fill="#000" textLength="33.3" lengthAdjust="spacingAndGlyphs"  stroke="#000" stroke-width="0.3">30915.0</text>
<text x="1658.7" y="118.2" font-size="10.2" fill="#000" textLength="33.3" lengthAdjust="spacingAndGlyphs"  stroke="#000" stroke-width="0.3">30677.0</text>
<text x="1658.7" y="151.2" font-size="10.2" fill="#000" textLength="33.3" lengthAdjust="spacingAndGlyphs"  stroke="#000" stroke-width="0.3">30446.0</text>
<text x="1658.7" y="184.2" font-size="10.2" fill="#000" textLength="33.3" lengthAdjust="spacingAndGlyphs"  stroke="#000" stroke-width="0.3">30215.0</text>
<text x="1658.7" y="217.2" font-size="10.2" fill="#000" textLength="33.3" lengthAdjust="spacingAndGlyphs"  stroke="#000" stroke-width="0.3">29977.0</text>
<text x="1658.7" y="250.2" font-size="10.2" fill="#000" textLength="33.3" lengthAdjust="spacingAndGlyphs"  stroke="#000" stroke-width="0.3">29746.0</text>
<text x="1658.7" y="283.2" font-size="10.2" fill="#000" textLength="33.3" lengthAdjust="spacingAndGlyphs"  stroke="#000" stroke-width="0.3">29515.0</text>
<text x="1658.7" y="382.2" font-size="10.2" fill="#000" textLength="33.3" lengthAdjust="spacingAndGlyphs"  stroke="#000" stroke-width="0.3">28815.0</text>
<text x="1658.7" y="415.2" font-size="10.2" fill="#000" textLength="33.3" lengthAdjust="spacingAndGlyphs"  stroke="#000" stroke-width="0.3">28577.0</text>
<text x="1658.7" y="448.2" font-size="10.2" fill="#000" textLength="33.3" lengthAdjust="spacingAndGlyphs"  stroke="#000" stroke-width="0.3">28346.0</text>
<text x="1658.7" y="481.2" font-size="10.2" fill="#000" textLength="33.3" lengthAdjust="spacingAndGlyphs"  stroke="#000" stroke-width="0.3">28115.0</text>
<text x="1658.7" y="514.2" font-size="10.2" fill="#000" textLength="33.3" lengthAdjust="spacingAndGlyphs"  stroke="#000" stroke-width="0.3">27877.0</text>
<text x="1658.7" y="547.2" font-size="10.2" fill="#000" textLength="33.3" lengthAdjust="spacingAndGlyphs"  stroke="#000" stroke-width="0.3">27646.0</text>
<text x="1658.7" y="580.2" font-size="10.2" fill="#000" textLength="33.3" lengthAdjust="spacingAndGlyphs"  stroke="#000" stroke-width="0.3">27415.0</text>
<g shape-rendering="crispEdges">
<rect x="1655" y="288" width="41" height="11" fill="#ff0000"/>
<rect x="1655" y="307" width="41" height="11" fill="#ff0000"/>
<rect x="1655" y="329" width="41" height="11" fill="#000000"/>
<rect x="1655" y="341" width="41" height="11" fill="#32cd32"/>
<rect x="1655" y="360" width="41" height="11" fill="#0000ff"/>
<rect x="1655" y="379" width="41" height="11" fill="#0000ff"/>
</g>
<text x="1658.7" y="297.3" font-size="10.2" fill="#fff" textLength="33.3" lengthAdjust="spacingAndGlyphs"  stroke="#fff" stroke-width="0.3">29406.6</text>
<text x="1658.7" y="316.3" font-size="10.2" fill="#fff" textLength="33.3" lengthAdjust="spacingAndGlyphs"  stroke="#fff" stroke-width="0.3">29272.4</text>
<text x="1658.7" y="338.3" font-size="10.2" fill="#fff" textLength="33.3" lengthAdjust="spacingAndGlyphs"  stroke="#fff" stroke-width="0.3">29121.0</text>
<text x="1658.7" y="350.3" font-size="10.2" fill="#fff" textLength="33.3" lengthAdjust="spacingAndGlyphs"  stroke="#fff" stroke-width="0.3">29032.3</text>
<text x="1658.7" y="369.3" font-size="10.2" fill="#fff" textLength="33.3" lengthAdjust="spacingAndGlyphs"  stroke="#fff" stroke-width="0.3">28898.1</text>
<text x="1658.7" y="388.3" font-size="10.2" fill="#fff" textLength="33.3" lengthAdjust="spacingAndGlyphs"  stroke="#fff" stroke-width="0.3">28763.9</text>
<text x="1657" y="592.7" font-size="10.2" fill="#000" textLength="28.5" lengthAdjust="spacingAndGlyphs"  stroke="#000" stroke-width="0.3">511.02</text>
<text x="1657" y="685.2" font-size="10.2" fill="#000" textLength="18" lengthAdjust="spacingAndGlyphs"  stroke="#000" stroke-width="0.3">0.00</text>
<text x="1657" y="748.2" font-size="10.2" fill="#000" textLength="31.5" lengthAdjust="spacingAndGlyphs"  stroke="#000" stroke-width="0.3">-358.25</text>
<text x="1657" y="764.2" font-size="10.2" fill="#000" textLength="15.3" lengthAdjust="spacingAndGlyphs"  stroke="#000" stroke-width="0.3">100</text>
<text x="1657" y="793.2" font-size="10.2" fill="#000" textLength="10.3" lengthAdjust="spacingAndGlyphs"  stroke="#000" stroke-width="0.3">80</text>
<text x="1657" y="844.2" font-size="10.2" fill="#000" textLength="10.3" lengthAdjust="spacingAndGlyphs"  stroke="#000" stroke-width="0.3">50</text>
<text x="1657" y="905.2" font-size="10.2" fill="#000" textLength="10.3" lengthAdjust="spacingAndGlyphs"  stroke="#000" stroke-width="0.3">15</text>
<text x="1657" y="924.2" font-size="10.2" fill="#000" textLength="5.2" lengthAdjust="spacingAndGlyphs"  stroke="#000" stroke-width="0.3">0</text>
<polygon points="0,37 2.5,33 5,37" fill="#000"/>
<text x="10" y="38" font-size="10.2" fill="#000" textLength="188" lengthAdjust="spacingAndGlyphs"  stroke="#000" stroke-width="0.3">HK50-,H4  29067.0 29161.0 29046.0 29121.0</text>
<path d="M0 42h26v2h-1v-1h-25z" fill="#ff0000" shape-rendering="crispEdges"/>
<text x="-0.8" y="593.6" font-size="10.2" fill="#000" textLength="120" lengthAdjust="spacingAndGlyphs"  stroke="#000" stroke-width="0.3">MACD(12,26,9) 63.59 -37.21</text>
<text x="-0.8" y="765.8" font-size="10.2" fill="#000" textLength="67" lengthAdjust="spacingAndGlyphs"  stroke="#000" stroke-width="0.3">RSI(14) 62.8027</text>
<text x="0" y="0" font-size="10.2" fill="#000"  transform="translate(-6,940) scale(0.915,1)" stroke="#000" stroke-width="0.3">10 Feb 2021</text>
<text x="0" y="0" font-size="10.2" fill="#000"  transform="translate(58,940) scale(0.915,1)" stroke="#000" stroke-width="0.3">19 Feb 01:15</text>
<text x="0" y="0" font-size="10.2" fill="#000"  transform="translate(122,940) scale(0.915,1)" stroke="#000" stroke-width="0.3">25 Feb 01:15</text>
<text x="0" y="0" font-size="10.2" fill="#000"  transform="translate(186,940) scale(0.915,1)" stroke="#000" stroke-width="0.3">3 Mar 01:15</text>
<text x="0" y="0" font-size="10.2" fill="#000"  transform="translate(250,940) scale(0.915,1)" stroke="#000" stroke-width="0.3">9 Mar 01:15</text>
<text x="0" y="0" font-size="10.2" fill="#000"  transform="translate(314,940) scale(0.915,1)" stroke="#000" stroke-width="0.3">15 Mar 01:15</text>
<text x="0" y="0" font-size="10.2" fill="#000"  transform="translate(378,940) scale(0.915,1)" stroke="#000" stroke-width="0.3">19 Mar 01:15</text>
<text x="0" y="0" font-size="10.2" fill="#000"  transform="translate(442,940) scale(0.915,1)" stroke="#000" stroke-width="0.3">25 Mar 01:15</text>
<text x="0" y="0" font-size="10.2" fill="#000"  transform="translate(506,940) scale(0.915,1)" stroke="#000" stroke-width="0.3">31 Mar 01:15</text>
<text x="0" y="0" font-size="10.2" fill="#000"  transform="translate(570,940) scale(0.915,1)" stroke="#000" stroke-width="0.3">9 Apr 01:15</text>
<text x="0" y="0" font-size="10.2" fill="#000"  transform="translate(634,940) scale(0.915,1)" stroke="#000" stroke-width="0.3">15 Apr 01:15</text>
<text x="0" y="0" font-size="10.2" fill="#000"  transform="translate(698,940) scale(0.915,1)" stroke="#000" stroke-width="0.3">21 Apr 01:15</text>
<text x="0" y="0" font-size="10.2" fill="#000"  transform="translate(762,940) scale(0.915,1)" stroke="#000" stroke-width="0.3">27 Apr 01:15</text>
<text x="0" y="0" font-size="10.2" fill="#000"  transform="translate(826,940) scale(0.915,1)" stroke="#000" stroke-width="0.3">3 May 01:15</text>
<text x="0" y="0" font-size="10.2" fill="#000"  transform="translate(890,940) scale(0.915,1)" stroke="#000" stroke-width="0.3">7 May 01:15</text>
<text x="0" y="0" font-size="10.2" fill="#000"  transform="translate(954,940) scale(0.915,1)" stroke="#000" stroke-width="0.3">13 May 01:15</text>
<text x="0" y="0" font-size="10.2" fill="#000"  transform="translate(1018,940) scale(0.915,1)" stroke="#000" stroke-width="0.3">20 May 01:15</text>
<text x="0" y="0" font-size="10.2" fill="#000"  transform="translate(1082,940) scale(0.915,1)" stroke="#000" stroke-width="0.3">26 May 01:15</text>
<text x="0" y="0" font-size="10.2" fill="#000"  transform="translate(1146,940) scale(0.915,1)" stroke="#000" stroke-width="0.3">1 Jun 01:15</text>
<text x="0" y="0" font-size="10.2" fill="#000"  transform="translate(1210,940) scale(0.915,1)" stroke="#000" stroke-width="0.3">7 Jun 01:15</text>
<text x="0" y="0" font-size="10.2" fill="#000"  transform="translate(1274,940) scale(0.915,1)" stroke="#000" stroke-width="0.3">11 Jun 01:15</text>
<text x="0" y="0" font-size="10.2" fill="#000"  transform="translate(1338,940) scale(0.915,1)" stroke="#000" stroke-width="0.3">18 Jun 01:15</text>
<text x="0" y="0" font-size="10.2" fill="#000"  transform="translate(1402,940) scale(0.915,1)" stroke="#000" stroke-width="0.3">24 Jun 01:15</text>
<text x="1533" y="338" font-size="21" fill="#00ff00" font-weight="300" textLength="107" lengthAdjust="spacingAndGlyphs" >多空转折点</text>
<defs><linearGradient id="g1" x1="0" y1="0" x2="0" y2="1"><stop offset="0" stop-color="#ff5a5a"/><stop offset="1" stop-color="#d82020"/></linearGradient><linearGradient id="g2" x1="0" y1="0" x2="0" y2="1"><stop offset="0" stop-color="#e03030"/><stop offset="0.55" stop-color="#c81818"/><stop offset="1" stop-color="#a80000"/></linearGradient><linearGradient id="g3" x1="0" y1="0" x2="0" y2="1"><stop offset="0" stop-color="#f4f4f4"/><stop offset="1" stop-color="#cfcfcf"/></linearGradient></defs>
<g shape-rendering="crispEdges">
<rect x="0" y="46" width="217" height="57" fill="#fff"/>
<rect x="0" y="46" width="50" height="25" fill="url(#g1)"/>
<rect x="165" y="46" width="52" height="25" fill="url(#g1)"/>
<rect x="0" y="70" width="107" height="33" fill="url(#g2)"/>
<rect x="109" y="70" width="108" height="33" fill="url(#g2)"/>
<rect x="0" y="46" width="50" height="1" fill="#b00000"/><rect x="165" y="46" width="52" height="1" fill="#b00000"/>
<rect x="2" y="69" width="44" height="1" fill="#ff9090"/><rect x="169" y="69" width="44" height="1" fill="#ff9090"/>
<rect x="52.5" y="46.5" width="110" height="21" fill="#fff" stroke="#c8c8c8"/>
<rect x="54" y="48" width="19" height="19" fill="url(#g3)" stroke="#b8b8b8" stroke-width="1"/>
<rect x="142" y="48" width="19" height="19" fill="url(#g3)" stroke="#b8b8b8" stroke-width="1"/>
</g>
<polygon points="59.5,56 65.5,56 62.5,59.5" fill="#4a5cc0"/><polygon points="148.5,59 154.5,59 151.5,55.5" fill="#4a5cc0"/>
<text x="138" y="62" font-size="12.4" fill="#000" text-anchor="end" >1.00</text>
<text x="10" y="62" font-size="11.5" fill="#fff" textLength="26" lengthAdjust="spacingAndGlyphs" >SELL</text>
<text x="178" y="62" font-size="11.5" fill="#fff" textLength="24" lengthAdjust="spacingAndGlyphs" >BUY</text>
<text x="14.5" y="98" font-size="12" fill="#fff" font-weight="bold" textLength="34" lengthAdjust="spacingAndGlyphs" >29119</text>
<text x="124.5" y="98" font-size="12" fill="#fff" font-weight="bold" textLength="34" lengthAdjust="spacingAndGlyphs" >29137</text>
<text x="51.6" y="98" font-size="31" fill="#fff" font-weight="bold" >.</text>
<text x="162.6" y="98" font-size="31" fill="#fff" font-weight="bold" >.</text>
<text x="59.6" y="98" font-size="32.5" fill="#fff" stroke="#fff" stroke-width="0.7" font-weight="200" textLength="18.5" lengthAdjust="spacingAndGlyphs" style="font-family:'DejaVu Sans','Liberation Sans',sans-serif">5</text>
<text x="170.6" y="98" font-size="32.5" fill="#fff" stroke="#fff" stroke-width="0.7" font-weight="200" textLength="18.5" lengthAdjust="spacingAndGlyphs" style="font-family:'DejaVu Sans','Liberation Sans',sans-serif">5</text>
<g><rect x="0" y="0" width="1700" height="22" fill="#f0f0f0" shape-rendering="crispEdges"/><rect x="0" y="21" width="1700" height="1" fill="#e3e3e3" shape-rendering="crispEdges"/><rect x="0" y="22" width="1700" height="1" fill="#b4b4b4" shape-rendering="crispEdges"/><rect x="0" y="23" width="1700" height="1" fill="#7e7e7e" shape-rendering="crispEdges"/><path d="M1.2000000000000002 13.6L5 17.2" stroke="#c09818" stroke-width="3.2" stroke-linecap="round"/><path d="M1.7999999999999998 13.4L5.300000000000001 16.6" stroke="#f4dc70" stroke-width="1" stroke-linecap="round"/><circle cx="-3" cy="9" r="5.6" fill="#d6ecfb" stroke="#3c82d2" stroke-width="1.4"/><rect x="14" y="1" width="1" height="20" fill="#a0a0a0" shape-rendering="crispEdges"/><path d="M24.5 2.5h8l3.5 3.5v10h-11.5z" fill="#fff" stroke="#8a8a8a" stroke-width="1"/><path d="M26 5.5h4M26 8.5h7M26 11.5h7" stroke="#9a9a9a" stroke-width="1" fill="none"/><path d="M32.5 8.5h3v4h4v3h-4v4h-3v-4h-4v-3h4z" fill="#2ad02a" stroke="#0a8a0a" stroke-width="1" stroke-linejoin="round"/><path d="M33.2 9.4h1.6v4h4v1h-5.6z" fill="#a0f8a0" opacity=".75"/><text x="43" y="13.5" font-size="12" fill="#000" style="font-family:'Liberation Sans', 'Noto Sans CJK SC', sans-serif">新订单</text><path d="M91 12L98 3.5L107 9L100.5 18z" fill="#e6b422" stroke="#a87810" stroke-width="1" stroke-linejoin="round"/><path d="M93 11.5L98.3 5L104.5 8.8L99.5 15.5z" fill="#f8dc60"/><path d="M91 12L100.5 18L107 9" fill="none" stroke="#8a5c08" stroke-width="1.2"/><path d="M121.5 3L130 2.2L132.5 4V11H121.5z" fill="#2d8fe8" stroke="#1c64b8" stroke-width="1"/><path d="M124 5.5h6M124 8h6" stroke="#cfe8ff" stroke-width="1.2"/><path d="M122 17.5a3.2 3.2 0 0 1 .6-6.2a4 4 0 0 1 7.2-.8a3.6 3.6 0 0 1 2.8 7z" fill="#e8eef8" stroke="#6c8cc0" stroke-width="1"/><circle cx="155" cy="9.5" r="7.2" fill="none" stroke="#6aa0d8" stroke-width="1.2"/><circle cx="155" cy="9.5" r="4.6" fill="none" stroke="#5a90d0" stroke-width="1.2"/><path d="M155 9.5V17.5A8 8 0 0 0 162.2 10z" fill="#8ccf8c" opacity=".8"/><circle cx="155" cy="9.5" r="2" fill="#2a60c8"/><path d="M155.3 10V17.5" stroke="#10a010" stroke-width="1.4"/><path d="M175.5 9L182 18L190 9.5z" fill="#f0d040" stroke="#c09a10" stroke-width=".8"/><ellipse cx="182" cy="7.5" rx="7.8" ry="2.8" fill="#4aa0dc" stroke="#2870b0" stroke-width=".8"/><path d="M178 6.5a4 4 0 0 1 8 0z" fill="#58b0e8" stroke="#2870b0" stroke-width=".8"/><circle cx="186.5" cy="13.7" r="4.2" fill="#d82a1a" stroke="#a01008" stroke-width=".6"/><rect x="184.8" y="12" width="3.4" height="3.4" fill="#fff"/><text x="195.6" y="13.5" font-size="12" fill="#000" style="font-family:'Liberation Sans', 'Noto Sans CJK SC', sans-serif" textLength="47" lengthAdjust="spacingAndGlyphs">自动交易</text><rect x="250" y="0" width="1" height="22" fill="#a0a0a0" shape-rendering="crispEdges"/><path d="M254 1h3v1h-3zM254 3h3v1h-3zM254 5h3v1h-3zM254 7h3v1h-3zM254 9h3v1h-3zM254 11h3v1h-3zM254 13h3v1h-3zM254 15h3v1h-3zM254 17h3v1h-3zM254 19h3v1h-3z" fill="#a8a8a8" shape-rendering="crispEdges"/><path d="M268.5 4V18M266 15.5H280" stroke="#505050" stroke-width="1.3" fill="none"/><path d="M266.7 6.2L268.5 3.6L270.3 6.2zM278 13.7L280.6 15.5L278 17.3z" fill="#505050"/><path d="M274.5 5.5V14M274.5 6.3h2.5M272 12.5h2.5" stroke="#0a960a" stroke-width="1.4" fill="none"/><rect x="288" y="0" width="25" height="21" fill="#f9f9f9" shape-rendering="crispEdges"/><rect x="288" y="0" width="1" height="21" fill="#a0a0a0" shape-rendering="crispEdges"/><path d="M296.5 4V18M294 15.5H308" stroke="#505050" stroke-width="1.3" fill="none"/><path d="M294.7 6.2L296.5 3.6L298.3 6.2zM306 13.7L308.6 15.5L306 17.3z" fill="#505050"/><path d="M302.6 2.2V14" stroke="#0a780a" stroke-width="1.2"/><rect x="300.4" y="4.4" width="4.6" height="7.2" fill="#38e038" stroke="#0a8a0a" stroke-width="1"/><path d="M324.5 4V18M322 15.5H336" stroke="#505050" stroke-width="1.3" fill="none"/><path d="M322.7 6.2L324.5 3.6L326.3 6.2zM334 13.7L336.6 15.5L334 17.3z" fill="#505050"/><path d="M323.3 12.8Q327 6.6 329.5 7.2T334.8 11.3" stroke="#1a9a1a" stroke-width="1.3" fill="none"/><rect x="345" y="1" width="1" height="20" fill="#a0a0a0" shape-rendering="crispEdges"/><path d="M364.2 12.6L368 16.2" stroke="#c09818" stroke-width="3.2" stroke-linecap="round"/><path d="M364.8 12.4L368.3 15.6" stroke="#f4dc70" stroke-width="1" stroke-linecap="round"/><circle cx="360" cy="8" r="5.6" fill="#d6ecfb" stroke="#3c82d2" stroke-width="1.4"/><path d="M357 8h6M360 5v6" stroke="#4a8cc8" stroke-width="1.8" fill="none"/><path d="M392.2 12.6L396 16.2" stroke="#c09818" stroke-width="3.2" stroke-linecap="round"/><path d="M392.8 12.4L396.3 15.6" stroke="#f4dc70" stroke-width="1" stroke-linecap="round"/><circle cx="388" cy="8" r="5.6" fill="#d6ecfb" stroke="#3c82d2" stroke-width="1.4"/><path d="M385 8h6" stroke="#4a8cc8" stroke-width="1.8" fill="none"/><rect x="410" y="2" width="8" height="8" fill="#48b018"/><rect x="411.5" y="5.3" width="5" height="3.4" fill="#fff" opacity=".88"/><rect x="412.2" y="6.3" width="3.6" height="1" fill="#48b018" opacity=".7"/><rect x="418" y="2" width="8" height="8" fill="#2a62d8"/><rect x="419.5" y="5.3" width="5" height="3.4" fill="#fff" opacity=".88"/><rect x="420.2" y="6.3" width="3.6" height="1" fill="#2a62d8" opacity=".7"/><rect x="410" y="10" width="8" height="8" fill="#2a62d8"/><rect x="411.5" y="13.3" width="5" height="3.4" fill="#fff" opacity=".88"/><rect x="412.2" y="14.3" width="3.6" height="1" fill="#2a62d8" opacity=".7"/><rect x="418" y="10" width="8" height="8" fill="#48b018"/><rect x="419.5" y="13.3" width="5" height="3.4" fill="#fff" opacity=".88"/><rect x="420.2" y="14.3" width="3.6" height="1" fill="#48b018" opacity=".7"/><rect x="435" y="1" width="1" height="20" fill="#a0a0a0" shape-rendering="crispEdges"/><rect x="440" y="0" width="28" height="21" fill="#f9f9f9" shape-rendering="crispEdges"/><rect x="440" y="0" width="1" height="21" fill="#a0a0a0" shape-rendering="crispEdges"/><path d="M448.5 4V18M446 15.5H460" stroke="#505050" stroke-width="1.3" fill="none"/><path d="M446.7 6.2L448.5 3.6L450.3 6.2zM458 13.7L460.6 15.5L458 17.3z" fill="#505050"/><polygon points="453,6.2 457.5,9.5 453,12.8" fill="#58d058" stroke="#0a8a0a" stroke-width="1"/><rect x="468" y="0" width="28" height="21" fill="#f9f9f9" shape-rendering="crispEdges"/><rect x="468" y="0" width="1" height="21" fill="#a0a0a0" shape-rendering="crispEdges"/><path d="M476.5 4V18M474 15.5H488" stroke="#505050" stroke-width="1.3" fill="none"/><path d="M474.7 6.2L476.5 3.6L478.3 6.2zM486 13.7L488.6 15.5L486 17.3z" fill="#505050"/><path d="M482.5 4V14" stroke="#1a70c0" stroke-width="1.4"/><path d="M483.6 9.3L487 6.8V11.8z" fill="#e04808"/><path d="M484 9.3H488" stroke="#e04808" stroke-width="1.2"/><rect x="497" y="1" width="1" height="20" fill="#a0a0a0" shape-rendering="crispEdges"/><path d="M507.5 2.5h8l3.5 3.5v10h-11.5z" fill="#fff" stroke="#8a8a8a" stroke-width="1"/><path d="M509 5.5h4M509 8.5h7M509 11.5h7" stroke="#9a9a9a" stroke-width="1" fill="none"/><path d="M515.5 8.5h3v4h4v3h-4v4h-3v-4h-4v-3h4z" fill="#2ad02a" stroke="#0a8a0a" stroke-width="1" stroke-linejoin="round"/><path d="M516.2 9.4h1.6v4h4v1h-5.6z" fill="#a0f8a0" opacity=".75"/><polygon points="529,9 535,9 532,12.2" fill="#000"/><circle cx="553" cy="10" r="7.4" fill="#1c6ad8" stroke="#0c48a8" stroke-width="1"/><circle cx="553" cy="10" r="5.7" fill="#f4f8ff"/><path d="M553 5.2v1M553 13.8v1M548.2 10h1M556.8 10h1" stroke="#8aa0c0" stroke-width="1"/><path d="M553 6.5V10.3H556" stroke="#303030" stroke-width="1.1" fill="none"/><polygon points="568,9 574,9 571,12.2" fill="#000"/><rect x="584.5" y="3.5" width="15" height="13" fill="#fff" stroke="#2a68c0" stroke-width="1"/><rect x="585" y="4" width="14" height="2" fill="#6aa0e8"/><path d="M585 10.5H599" stroke="#2a68c0" stroke-width="1"/><path d="M586.5 8.8L589.5 8.2L591.5 7.2L594 8L597.5 7" stroke="#b02010" stroke-width="1.2" fill="none"/><path d="M587 14.5L589.5 13.5L591.5 14.3L594.5 12.3L597.5 14.2" stroke="#109010" stroke-width="1.2" fill="none"/><polygon points="607,9 613,9 610,12.2" fill="#000"/><rect x="618" y="0" width="1" height="22" fill="#a0a0a0" shape-rendering="crispEdges"/><path d="M622 1h3v1h-3zM622 3h3v1h-3zM622 5h3v1h-3zM622 7h3v1h-3zM622 9h3v1h-3zM622 11h3v1h-3zM622 13h3v1h-3zM622 15h3v1h-3zM622 17h3v1h-3zM622 19h3v1h-3z" fill="#a8a8a8" shape-rendering="crispEdges"/><rect x="628" y="0" width="25" height="21" fill="#f9f9f9" shape-rendering="crispEdges"/><rect x="628" y="0" width="1" height="21" fill="#a0a0a0" shape-rendering="crispEdges"/><path d="M636 3V15.5L639 12.8L641.3 17.3L643 16.4L640.8 12.2H644.5z" fill="#4c4c4c"/><path d="M661 10.5H667M670 10.5H676M668.5 3V9M668.5 12V18" stroke="#5a5a5a" stroke-width="1.3" fill="none"/><rect x="668" y="10" width="1" height="1" fill="#5a5a5a"/><rect x="685" y="1" width="1" height="20" fill="#a0a0a0" shape-rendering="crispEdges"/><path d="M702.5 4V17" stroke="#4c4c4c" stroke-width="1.4"/><path d="M725 10.5H737" stroke="#4c4c4c" stroke-width="1.4"/><path d="M752.8 16.8L765 4.6" stroke="#5a5a5a" stroke-width="1.3"/><path d="M779 12L790 3.5M780 16.5L793 7.5" stroke="#4c4c4c" stroke-width="1.2" fill="none"/><path d="M781 10.5L782.5 16M784 8.5L785.5 14M787 6L788.5 12M790 3L791.5 9.5" stroke="#4c4c4c" stroke-width="1" fill="none"/><text x="789.6" y="18.8" font-size="6.6" font-weight="bold" fill="#333" style="font-family:'Liberation Sans', 'Noto Sans CJK SC', sans-serif">E</text><path d="M808 3.5H821M808 6.5H821M808 10.5H821M808 14.5H817" stroke="#4c4c4c" stroke-width="1" stroke-dasharray="1 1" fill="none" shape-rendering="crispEdges"/><text x="817.8" y="18.8" font-size="6.6" font-weight="bold" fill="#333" style="font-family:'Liberation Sans', 'Noto Sans CJK SC', sans-serif">F</text><text x="838.3" y="14.8" font-size="12.5" fill="#4c4c4c" style="font-family:'Liberation Sans', 'Noto Sans CJK SC', sans-serif" stroke="#4c4c4c" stroke-width=".3">A</text><rect x="865.5" y="4.5" width="11" height="12" fill="none" stroke="#4c4c4c" stroke-width="1" stroke-dasharray="1 1" shape-rendering="crispEdges"/><text x="867.4" y="14.6" font-size="11" fill="#4c4c4c" font-weight="bold" style="font-family:'Liberation Sans', 'Noto Sans CJK SC', sans-serif">T</text><path d="M892 7.3L895.5 4L899 7.3L895.5 9z" fill="#4c4c4c"/><path d="M899 14L902.5 12.6L906 14L902.5 17z" fill="#4c4c4c"/><path d="M894.5 12L897 14L901.5 8.5" stroke="#4c4c4c" stroke-width="1.3" fill="none"/><polygon points="913,9 919,9 916,12.2" fill="#000"/><rect x="924" y="0" width="1" height="22" fill="#a0a0a0" shape-rendering="crispEdges"/><path d="M928 1h3v1h-3zM928 3h3v1h-3zM928 5h3v1h-3zM928 7h3v1h-3zM928 9h3v1h-3zM928 11h3v1h-3zM928 13h3v1h-3zM928 15h3v1h-3zM928 17h3v1h-3zM928 19h3v1h-3z" fill="#a8a8a8" shape-rendering="crispEdges"/><rect x="1075" y="0" width="24" height="21" fill="#f9f9f9" shape-rendering="crispEdges"/><rect x="1075" y="0" width="1" height="21" fill="#a0a0a0" shape-rendering="crispEdges"/><text x="939.7" y="14" font-size="9.6" fill="#333" style="font-family:'Liberation Sans', 'Noto Sans CJK SC', sans-serif" textLength="12.6" lengthAdjust="spacingAndGlyphs">M1</text><text x="967.7" y="14" font-size="9.6" fill="#333" style="font-family:'Liberation Sans', 'Noto Sans CJK SC', sans-serif" textLength="12.6" lengthAdjust="spacingAndGlyphs">M5</text><text x="993" y="14" font-size="9.6" fill="#333" style="font-family:'Liberation Sans', 'Noto Sans CJK SC', sans-serif" textLength="18" lengthAdjust="spacingAndGlyphs">M15</text><text x="1021" y="14" font-size="9.6" fill="#333" style="font-family:'Liberation Sans', 'Noto Sans CJK SC', sans-serif" textLength="18" lengthAdjust="spacingAndGlyphs">M30</text><text x="1052.5" y="14" font-size="9.6" fill="#333" style="font-family:'Liberation Sans', 'Noto Sans CJK SC', sans-serif" textLength="12.3" lengthAdjust="spacingAndGlyphs">H1</text><text x="1079.7" y="14" font-size="9.6" fill="#333" style="font-family:'Liberation Sans', 'Noto Sans CJK SC', sans-serif" textLength="12.3" lengthAdjust="spacingAndGlyphs">H4</text><text x="1108.7" y="14" font-size="9.6" fill="#333" style="font-family:'Liberation Sans', 'Noto Sans CJK SC', sans-serif" textLength="12" lengthAdjust="spacingAndGlyphs">D1</text><text x="1135.7" y="14" font-size="9.6" fill="#333" style="font-family:'Liberation Sans', 'Noto Sans CJK SC', sans-serif" textLength="13.5" lengthAdjust="spacingAndGlyphs">W1</text><text x="1162.5" y="14" font-size="9.6" fill="#333" style="font-family:'Liberation Sans', 'Noto Sans CJK SC', sans-serif" textLength="15" lengthAdjust="spacingAndGlyphs">MN</text><rect x="1185" y="0" width="1" height="22" fill="#a0a0a0" shape-rendering="crispEdges"/><path d="M1648.5 14.5L1652.3 10.3" stroke="#2858c8" stroke-width="2.2" stroke-linecap="round"/><circle cx="1655.2" cy="7.2" r="3.6" fill="#f4f8ff" stroke="#2858c8" stroke-width="1.5"/><path d="M1673.5 8.5a4 3.2 0 0 1 8 0v3a3 3 0 0 1-3 3h-2.5l-2.5 3v-3.4a3 3 0 0 1-.9-2z" fill="#f8f8f8" stroke="#b0b0b0" stroke-width="1"/><circle cx="1686.5" cy="7.6" r="8.2" fill="#e03a26"/><text x="1686" y="12.2" font-size="12.8" fill="#fff" text-anchor="middle" style="font-family:'Liberation Sans', 'Noto Sans CJK SC', sans-serif">1</text></g>
</svg></body></html>
